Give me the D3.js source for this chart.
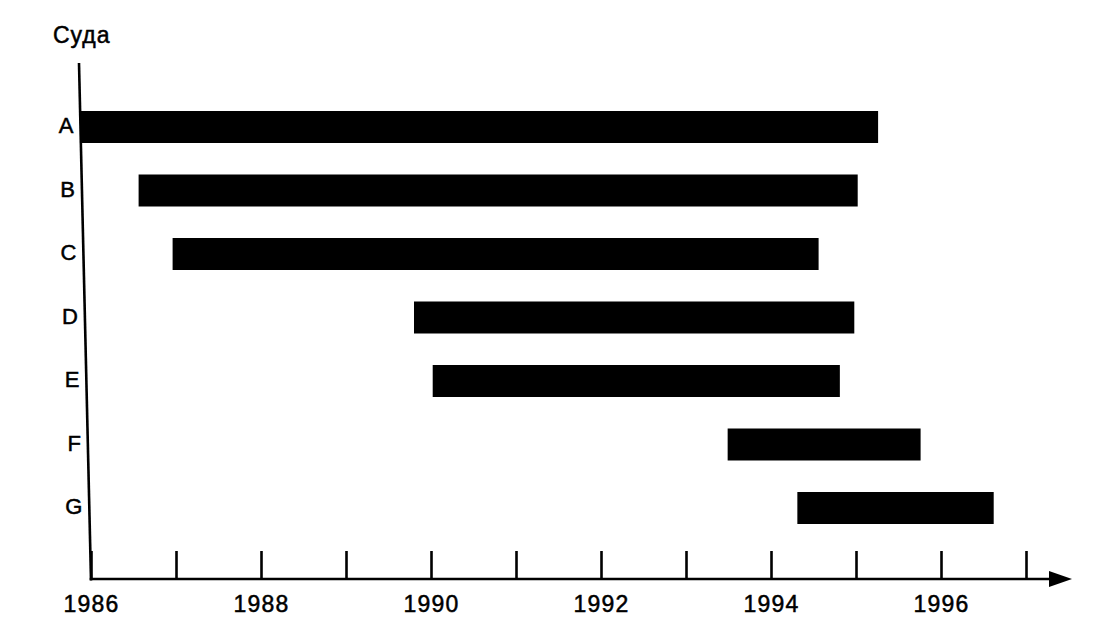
<!DOCTYPE html>
<html>
<head>
<meta charset="utf-8">
<script src="https://cdn.jsdelivr.net/npm/d3@7"></script>
<style>
  html, body { margin: 0; padding: 0; background: #fff; }
  svg { display: block; }
  text { font-family: "Liberation Sans", Arial, sans-serif; fill: #000; }
</style>
</head>
<body>
<svg id="chart" width="1117" height="631"></svg>
<script>
// ---- data ----
const categories = ["A", "B", "C", "D", "E", "F", "G"];
const startYears = [1985.87, 1986.56, 1986.96, 1989.80, 1990.02, 1993.49, 1994.31];
const endYears   = [1995.26, 1995.02, 1994.56, 1994.98, 1994.81, 1995.76, 1996.62];
const tickYears  = [1986, 1987, 1988, 1989, 1990, 1991, 1992, 1993, 1994, 1995, 1996, 1997];
const labelYears = [1986, 1988, 1990, 1992, 1994, 1996];
const yTitle = "Суда";

// ---- layout ----
const svg = d3.select("#chart");
const axisY = 579;          // baseline of the time axis
const axisTop = 63;         // top of vertical axis
const slant = 12;           // scan slant of vertical axis (px)
const barH = 32;

const x = d3.scaleLinear().domain([1986, 1997]).range([91, 1026]);
const y = d3.scalePoint().domain(categories).range([127, 508]);

const axisXAt = yy => x(1986) - slant * (axisY - yy) / (axisY - axisTop);

// bars
const rows = categories.map((c, i) => ({ c, s: startYears[i], e: endYears[i] }));
svg.append("g").selectAll("rect").data(rows).join("rect")
  .attr("x", d => x(d.s))
  .attr("y", d => y(d.c) - barH / 2)
  .attr("width", d => x(d.e) - x(d.s))
  .attr("height", barH)
  .attr("fill", "#000");

// vertical axis
svg.append("line")
  .attr("x1", axisXAt(axisTop)).attr("y1", axisTop)
  .attr("x2", axisXAt(axisY)).attr("y2", axisY + 1.5)
  .attr("stroke", "#000").attr("stroke-width", 2.6);

// category labels
svg.append("g").selectAll("text").data(categories).join("text")
  .attr("x", d => axisXAt(y(d)) - 7)
  .attr("y", d => y(d) - 1.5)
  .attr("dy", "0.36em")
  .attr("text-anchor", "end")
  .attr("font-size", 22)
  .attr("stroke", "#000").attr("stroke-width", 0.5)
  .text(d => d);

// y title
svg.append("text")
  .attr("x", 53).attr("y", 43)
  .attr("font-size", 23)
  .attr("letter-spacing", 1)
  .attr("stroke", "#000").attr("stroke-width", 0.5)
  .text(yTitle);

// time axis with ticks pointing up
const xAxis = d3.axisBottom(x)
  .tickValues(tickYears)
  .tickSizeInner(-28)
  .tickSizeOuter(0)
  .tickPadding(17)
  .tickFormat(d => labelYears.includes(d) ? String(d) : "");

const gx = svg.append("g")
  .attr("transform", `translate(0,${axisY})`)
  .call(xAxis);
gx.select(".domain").remove();
gx.selectAll(".tick line").attr("stroke", "#000").attr("stroke-width", 2.6);
gx.selectAll(".tick text")
  .attr("font-size", 23)
  .attr("letter-spacing", 1.2)
  .attr("font-family", "'Liberation Sans', Arial, sans-serif")
  .attr("fill", "#000")
  .attr("stroke", "#000").attr("stroke-width", 0.5);

// horizontal axis line with arrow
const arrowTip = x(1997) + 46;
svg.append("line")
  .attr("x1", x(1986) - 1.3).attr("y1", axisY)
  .attr("x2", arrowTip - 20).attr("y2", axisY)
  .attr("stroke", "#000").attr("stroke-width", 2.6);
svg.append("path")
  .attr("d", `M${arrowTip},${axisY} L${arrowTip - 23},${axisY - 8} L${arrowTip - 23},${axisY + 8} Z`)
  .attr("fill", "#000");
</script>
</body>
</html>
